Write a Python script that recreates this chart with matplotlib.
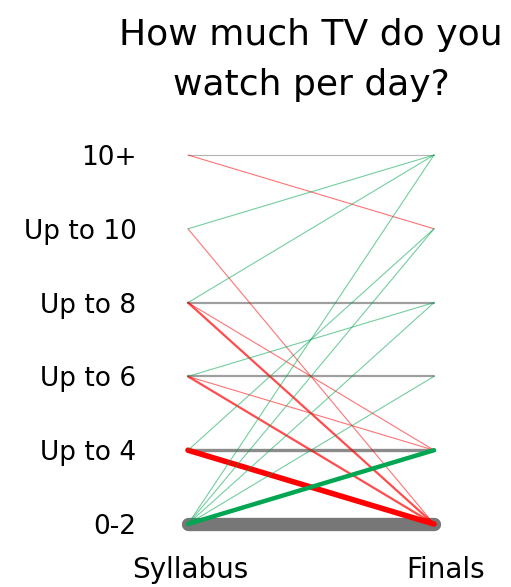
import matplotlib.pyplot as plt

# levels of TV watching (bottom to top)
levels = ['0-2', 'Up to 4', 'Up to 6', 'Up to 8', 'Up to 10', '10+']

# each transition: answer in syllabus survey -> answer in finals survey, number of students
syllabus = [0, 0, 0, 0, 0, 0, 1, 1, 1, 2, 2, 2, 2, 3, 3, 3, 3, 4, 4, 5, 5]
finals   = [0, 1, 2, 3, 4, 5, 0, 1, 4, 0, 1, 2, 3, 0, 1, 3, 5, 0, 5, 5, 4]
counts   = [12, 4, 1, 1, 1, 1, 5, 3, 1, 2, 1, 2, 1, 2, 1, 2, 1, 1, 1, 1, 1]

GREEN = '#00a651'
RED = '#ff0000'
GRAY = '#777777'

fig = plt.figure(figsize=(5.11, 5.87), dpi=100)
ax = fig.add_axes([188 / 511, 1 - 524 / 587, (434 - 188) / 511, (524 - 155) / 587])
ax.set_xlim(0, 1)
ax.set_ylim(0, 5)

# gray first, then red, then green on top
order = {GRAY: 0, RED: 1, GREEN: 2}
lines = []
for s, f, c in zip(syllabus, finals, counts):
    if f > s:
        col = GREEN
    elif f < s:
        col = RED
    else:
        col = GRAY
    lines.append((order[col], s, f, c, col))

for _, s, f, c, col in sorted(lines):
    alpha = min(1.0, 0.4 + 0.15 * c)
    ax.plot([0, 1], [s, f], color=col, lw=0.8 * c, alpha=alpha,
            solid_capstyle='round', clip_on=False)

ax.set_yticks(range(len(levels)))
ax.set_yticklabels(levels, fontsize=19)
ax.tick_params(axis='y', length=0, pad=37)
ax.set_xticks([])
for sp in ax.spines.values():
    sp.set_visible(False)

fig.text(190 / 511, 1 - 578 / 587, 'Syllabus', ha='center', va='baseline', fontsize=20)
fig.text(446 / 511, 1 - 578 / 587, 'Finals', ha='center', va='baseline', fontsize=20)

fig.text(311 / 511, 1 - 45 / 587, 'How much TV do you', ha='center', va='baseline', fontsize=26)
fig.text(311 / 511, 1 - 95 / 587, 'watch per day?', ha='center', va='baseline', fontsize=26)

fig.savefig('out.png', dpi=100)
